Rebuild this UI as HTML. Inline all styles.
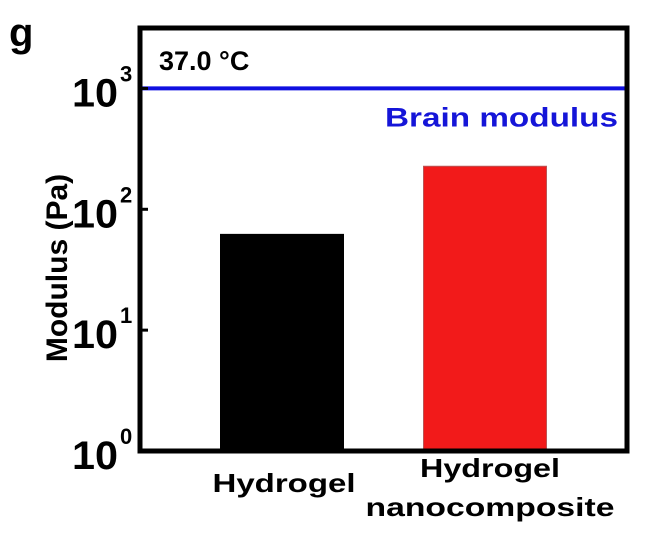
<!DOCTYPE html>
<html><head><meta charset="utf-8"><style>
body{margin:0;background:#fff;}
svg text{font-family:"Liberation Sans",Arial,sans-serif;font-weight:bold;}
</style></head><body>
<svg id="chart" width="648" height="530" viewBox="0 0 648 530" xmlns="http://www.w3.org/2000/svg">
<text x="9" y="46" font-size="40">g</text>
<g id="plot"></g>
</svg>
<script>
const categories = ["Hydrogel", "Hydrogel nanocomposite"];
const values = [62, 227];
const colors = ["#000000", "#f21a1a"];
const tickExps = [0, 1, 2, 3];
const brainModulus = 1000;
const yMaxExp = 3.5;

const L = 140, R = 627, T = 28, B = 451;
const NS = "http://www.w3.org/2000/svg";
const g = document.getElementById('plot');
function y(v){ return B - (Math.log10(v) / yMaxExp) * (B - T); }
const centers = [282, 485];
function xCenter(i){ return centers[i]; }
const barW = 123;
function mk(tag, attrs){ const e = document.createElementNS(NS, tag); for (const k in attrs) e.setAttribute(k, attrs[k]); g.appendChild(e); return e; }

categories.forEach((c, i) => {
  const v = values[i];
  const cx = xCenter(i);
  const r = mk('rect', {x: cx - barW/2, y: y(v), width: barW, height: B - y(v), fill: colors[i], stroke: i===1 ? '#b55' : '#000', 'stroke-width': 1});
  
  
});

const bl = mk('line', {x1: L, x2: R, y1: y(brainModulus), y2: y(brainModulus), stroke: '#1010e0', 'stroke-width': 4});


const bt = mk('text', {x: 618, y: y(brainModulus) + 38, 'font-size': 27, fill: '#1515d8', 'text-anchor': 'end', textLength: 233, lengthAdjust: 'spacingAndGlyphs'});
bt.textContent = 'Brain modulus';



const fr = mk('rect', {x: L, y: T, width: R - L, height: B - T, fill: 'none', stroke: '#000', 'stroke-width': 5});



const tt = mk('text', {x: 159, y: 70, 'font-size': 27});
tt.textContent = '37.0 °C';



tickExps.forEach(e => {
  const yy = y(Math.pow(10, e));
  const tk = mk('line', {x1: L, x2: L + 8, y1: yy, y2: yy, stroke: '#000', 'stroke-width': 3});
  
  
  const t = mk('text', {x: 72, y: yy + 18, 'font-size': 40, textLength: 46, lengthAdjust: 'spacingAndGlyphs'});
  t.textContent = '10';
  
  
  const s = mk('text', {x: 120, y: yy - 7, 'font-size': 22});
  s.textContent = String(e);
  
  
});

const yt = mk('text', {x: 0, y: 0, 'font-size': 30, 'text-anchor': 'middle', transform: 'translate(67,268) rotate(-90)'});
yt.textContent = 'Modulus (Pa)';



const x1 = mk('text', {x: 284, y: 492, 'font-size': 26, 'text-anchor': 'middle', textLength: 143, lengthAdjust: 'spacingAndGlyphs'});
x1.textContent = 'Hydrogel';


const x2 = mk('text', {x: 490, y: 477, 'font-size': 26, 'text-anchor': 'middle', textLength: 140, lengthAdjust: 'spacingAndGlyphs'});
x2.textContent = 'Hydrogel';


const x3 = mk('text', {x: 490, y: 516, 'font-size': 26, 'text-anchor': 'middle', textLength: 249, lengthAdjust: 'spacingAndGlyphs'});
x3.textContent = 'nanocomposite';


</script>
</body></html>
